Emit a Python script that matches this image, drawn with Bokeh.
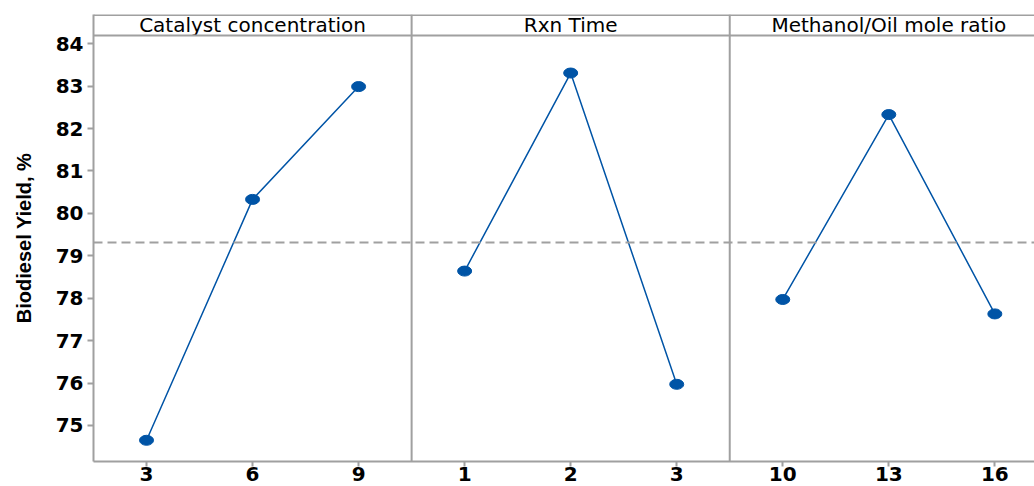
import numpy as np
from bokeh.plotting import figure
from bokeh.models import FixedTicker, Span, Range1d
from bokeh.core.properties import value
from bokeh.embed import file_html
from bokeh.resources import INLINE

# Main effects for biodiesel yield: mean yield at each factor level
factors = ["Catalyst concentration", "Rxn Time", "Methanol/Oil mole ratio"]
levels_catalyst = ["3", "6", "9"]
yield_catalyst = [74.65, 80.33, 82.99]
levels_time = ["1", "2", "3"]
yield_time = [78.64, 83.31, 75.97]
levels_ratio = ["10", "13", "16"]
yield_ratio = [77.97, 82.33, 77.63]
y_ticks = [75, 76, 77, 78, 79, 80, 81, 82, 83, 84]

groups = [(levels_catalyst, yield_catalyst),
          (levels_time, yield_time),
          (levels_ratio, yield_ratio)]

BLUE = "#0054A6"
GREY = "#A0A0A0"

Y_LO, Y_HI = 74.15, 84.69     # plotting range incl. strip band
STRIP_LO = 84.196             # bottom of the factor-name strip

p = figure(width=1034, height=486, output_backend="svg", toolbar_location=None,
           x_range=Range1d(-0.5, 8.374), y_range=Range1d(Y_LO, Y_HI),
           min_border_left=93, min_border_right=0, min_border_top=14,
           min_border_bottom=25)
p.outline_line_color = None
p.grid.visible = False
p.background_fill_color = "white"
p.border_fill_color = "white"

# one panel per factor, three positions per panel
tick_pos, tick_labels = [], {}
grand = np.mean(yield_catalyst + yield_time + yield_ratio)
for k, (levels, ys) in enumerate(groups):
    xs = [3 * k + i for i in range(len(levels))]
    for x, lab in zip(xs, levels):
        tick_pos.append(x)
        tick_labels[x] = lab
    p.line(xs, ys, line_color=BLUE, line_width=1.5)
    p.ellipse(xs, ys, width=14, height=10, width_units="screen",
              height_units="screen", fill_color=BLUE, line_color=BLUE)
    p.text([3 * k + 1], [(STRIP_LO + 84.68) / 2], text=[factors[k]],
           text_align="center", text_baseline="middle",
           text_font=value("DejaVu Sans"), text_font_size="20px",
           text_color="black")

# overall mean reference line
p.add_layout(Span(location=grand, dimension="width", line_color=GREY,
                  line_width=1.8, line_dash="9 5"))
# panel separators, strip rule and top border
for sx in (2.5, 5.5):
    p.add_layout(Span(location=sx, dimension="height", line_color=GREY,
                      line_width=2))
p.add_layout(Span(location=STRIP_LO, dimension="width", line_color=GREY,
                  line_width=2))
p.add_layout(Span(location=84.68, dimension="width", line_color=GREY,
                  line_width=2))

xa = p.xaxis[0]
xa.ticker = FixedTicker(ticks=tick_pos)
xa.major_label_overrides = tick_labels
xa.minor_tick_line_color = None
xa.major_tick_in = 0
xa.major_tick_out = 5
xa.major_tick_line_color = GREY
xa.major_tick_line_width = 2
xa.axis_line_color = GREY
xa.axis_line_width = 2
xa.major_label_standoff = 0
xa.major_label_text_font = "DejaVu Sans"
xa.major_label_text_font_style = "bold"
xa.major_label_text_font_size = "20px"
xa.major_label_text_color = "black"

ya = p.yaxis[0]
ya.ticker = FixedTicker(ticks=y_ticks)
ya.minor_tick_line_color = None
ya.major_tick_in = 0
ya.major_tick_out = 6
ya.major_tick_line_color = GREY
ya.major_tick_line_width = 2
ya.axis_line_color = GREY
ya.axis_line_width = 2
ya.major_label_standoff = 4
ya.major_label_text_font = "DejaVu Sans"
ya.major_label_text_font_style = "bold"
ya.major_label_text_font_size = "20px"
ya.major_label_text_color = "black"
ya.axis_label = "Biodiesel Yield, %"
ya.axis_label_text_font = "Liberation Sans"
ya.axis_label_text_font_style = "bold"
ya.axis_label_text_font_size = "20px"
ya.axis_label_text_color = "black"
ya.axis_label_standoff = 18

open("out.html", "w").write(file_html(p, INLINE))
